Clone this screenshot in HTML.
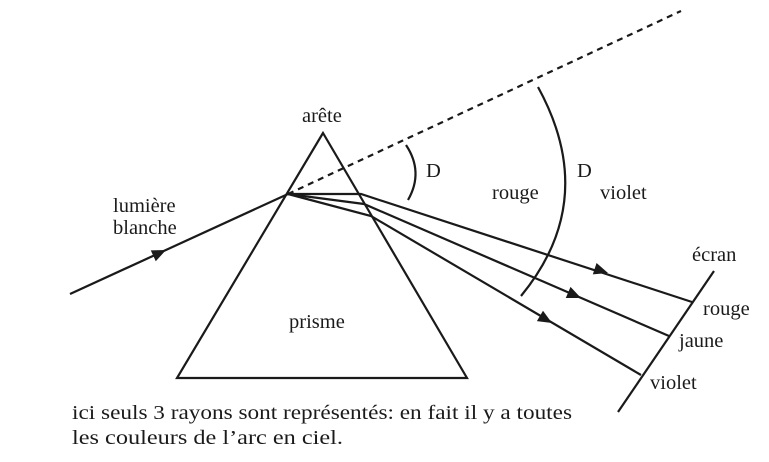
<!DOCTYPE html>
<html><head><meta charset="utf-8"><style>html,body{margin:0;padding:0;background:#fff;width:769px;height:462px;overflow:hidden}</style></head>
<body>
<svg width="769" height="462" viewBox="0 0 769 462" xmlns="http://www.w3.org/2000/svg" font-family="Liberation Serif, serif" font-size="20.5" fill="#1a1a1a">
<g stroke="#1a1a1a" stroke-width="2.2" fill="none">
<polygon points="323,133 177,378 467,378"/>
<line x1="70" y1="294" x2="288" y2="194"/>
<line x1="288" y1="194" x2="681" y2="11" stroke-dasharray="6,5"/>
<path d="M288,194 L361,194 L692,302"/>
<path d="M288,194 L364,204 L669,336"/>
<path d="M288,194 L371,216 L641,375"/>
<line x1="618" y1="412" x2="714" y2="271"/>
<path d="M406,145 Q424,172 408,200"/>
<path d="M538,87 Q600,200 521,296"/>
</g>
<g fill="#1a1a1a" stroke="none">
<polygon points="0,0 -14,-6 -14,6" transform="translate(166,250) rotate(-24.6)"/>
<polygon points="0,0 -14,-6 -14,6" transform="translate(608,273) rotate(18.1)"/>
<polygon points="0,0 -14,-6 -14,6" transform="translate(581,298) rotate(23.4)"/>
<polygon points="0,0 -14,-6 -14,6" transform="translate(552,323) rotate(30.5)"/>
</g>
<text x="302" y="122">arête</text>
<text x="426" y="177">D</text>
<text x="492" y="199">rouge</text>
<text x="577" y="177">D</text>
<text x="600" y="199">violet</text>
<text x="113" y="212">lumière</text>
<text x="113" y="234">blanche</text>
<text x="289" y="328">prisme</text>
<text x="692" y="261">écran</text>
<text x="703" y="315">rouge</text>
<text x="679" y="347">jaune</text>
<text x="650" y="389">violet</text>
<text x="72" y="419" textLength="500" lengthAdjust="spacingAndGlyphs">ici seuls 3 rayons sont représentés: en fait il y a toutes</text>
<text x="72" y="444" textLength="271" lengthAdjust="spacingAndGlyphs">les couleurs de l’arc en ciel.</text>
</svg>
</body></html>
